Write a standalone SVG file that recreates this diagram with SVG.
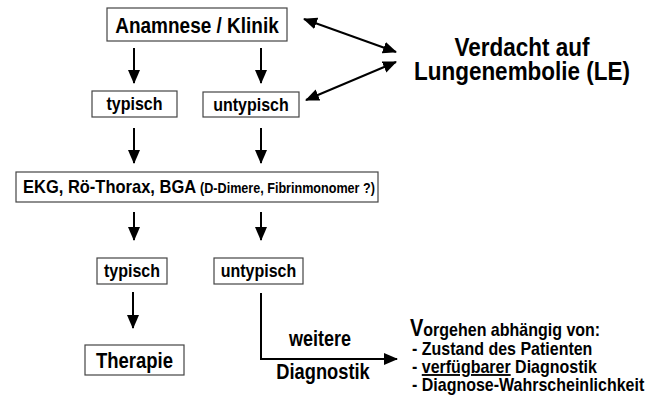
<svg xmlns="http://www.w3.org/2000/svg" width="665" height="402" viewBox="0 0 665 402">
<defs>
<marker id="ah" markerUnits="userSpaceOnUse" markerWidth="14" markerHeight="12" refX="13" refY="6" orient="auto-start-reverse">
<path d="M0,0 L14,6 L0,12 Z" fill="#000"/>
</marker>
<style>
text{font-family:"Liberation Sans",Arial,sans-serif;font-weight:bold;fill:#000}
.box{fill:#fff;stroke:#444;stroke-width:1.2}
.c{stroke:#000;stroke-width:2;fill:none}
.m{text-anchor:middle}
</style>
</defs>
<rect width="665" height="402" fill="#fff"/>
<g id="anamnese"><rect class="box" x="107" y="8" width="180" height="33"/><text class="m" transform="matrix(1 0 0 1.15 197 33)" font-size="19">Anamnese / Klinik</text></g>
<g id="typisch1"><rect class="box" x="92" y="91" width="85" height="26"/><text class="m" transform="matrix(1 0 0 1.15 134.5 110)" font-size="16">typisch</text></g>
<g id="untypisch1"><rect class="box" x="203" y="92" width="96" height="25"/><text class="m" transform="matrix(1 0 0 1.15 251 111)" font-size="16">untypisch</text></g>
<g id="verdacht"><text class="m" transform="matrix(1 0 0 1.18 522 56)" font-size="22.5">Verdacht auf</text><text class="m" transform="matrix(1 0 0 1.18 522 80)" font-size="22.5">Lungenembolie (LE)</text></g>
<g id="ekg"><rect class="box" x="16" y="172" width="362" height="30"/><text transform="matrix(1 0 0 1.15 23 193)" font-size="16.5">EKG, Rö-Thorax, BGA <tspan font-size="12.6">(D-Dimere, Fibrinmonomer ?)</tspan></text></g>
<g id="typisch2"><rect class="box" x="97" y="258" width="70" height="26"/><text class="m" transform="matrix(1 0 0 1.15 132 277)" font-size="16">typisch</text></g>
<g id="untypisch2"><rect class="box" x="214" y="258" width="89" height="26"/><text class="m" transform="matrix(1 0 0 1.15 258.5 277)" font-size="16">untypisch</text></g>
<g id="therapie"><rect class="box" x="85" y="345" width="99" height="30"/><text class="m" transform="matrix(1 0 0 1.18 134.5 368)" font-size="18.5">Therapie</text></g>
<g id="vorgehen">
<text transform="matrix(1 0 0 1.15 410 336)" font-size="16"><tspan font-size="20">V</tspan>orgehen abhängig von:</text>
<text transform="matrix(1 0 0 1.15 412 355)" font-size="16">- Zustand des Patienten</text>
<text transform="matrix(1 0 0 1.15 412 373)" font-size="16">- <tspan text-decoration="underline">verfügbarer</tspan> Diagnostik</text>
<text transform="matrix(1 0 0 1.15 412 391)" font-size="16">- Diagnose-Wahrscheinlichkeit</text>
</g>
<g id="connectors">
<line class="c" x1="134" y1="48" x2="134" y2="83" marker-end="url(#ah)"/>
<line class="c" x1="261" y1="48" x2="261" y2="83" marker-end="url(#ah)"/>
<line class="c" x1="134" y1="128" x2="134" y2="163" marker-end="url(#ah)"/>
<line class="c" x1="261" y1="128" x2="261" y2="163" marker-end="url(#ah)"/>
<line class="c" x1="134" y1="212" x2="134" y2="240" marker-end="url(#ah)"/>
<line class="c" x1="261" y1="212" x2="261" y2="240" marker-end="url(#ah)"/>
<line class="c" x1="133" y1="292" x2="133" y2="328" marker-end="url(#ah)"/>
<line class="c" x1="304" y1="19" x2="396" y2="52" marker-start="url(#ah)" marker-end="url(#ah)"/>
<line class="c" x1="396" y1="62" x2="306" y2="100" marker-start="url(#ah)" marker-end="url(#ah)"/>
<path class="c" d="M261,293 V359 H397" marker-end="url(#ah)"/>
<text class="m" transform="matrix(1 0 0 1.18 320 346)" font-size="18">weitere</text>
<text class="m" transform="matrix(1 0 0 1.18 323 379)" font-size="18.3">Diagnostik</text>
</g>
</svg>
